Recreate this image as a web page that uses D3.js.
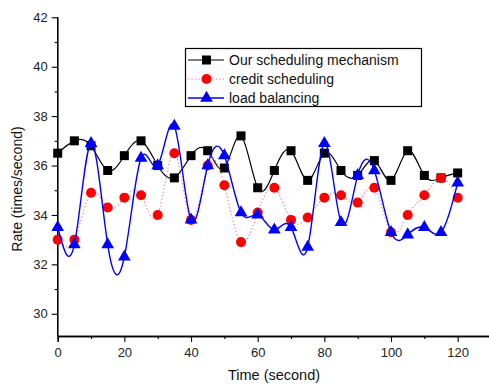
<!DOCTYPE html>
<html>
<head>
<meta charset="utf-8">
<script src="https://cdn.jsdelivr.net/npm/d3@7/dist/d3.min.js"></script>
<style>
  body { margin: 0; background: #fff; }
  svg { display: block; font-family: "Liberation Sans", Arial, sans-serif; }
</style>
</head>
<body>
<svg id="chart" width="489" height="388"></svg>
<script>
const times = [0,5,10,15,20,25,30,35,40,45,50,55,60,65,70,75,80,85,90,95,100,105,110,115,120];
const ourScheduling = [36.5,37.0,36.8,35.8,36.4,37.0,36.0,35.5,36.4,36.6,35.9,37.2,35.1,35.8,36.6,35.4,36.5,35.8,35.6,36.2,35.4,36.6,35.6,35.5,35.7];
const creditScheduling = [33.0,33.0,34.9,34.3,34.7,34.8,34.0,36.5,33.8,36.0,35.2,32.9,34.1,35.1,33.8,33.9,34.7,34.8,34.5,35.1,33.3,34.0,34.8,35.5,34.7];
const loadBalancing = [33.5,32.8,36.9,32.8,32.3,36.3,36.0,37.6,33.8,36.0,36.4,34.1,34.0,33.4,33.5,32.7,36.9,33.7,35.6,35.8,33.3,33.2,33.5,33.3,35.3];
const seriesNames = ["Our scheduling mechanism","credit scheduling","load balancing"];
const xMajorTicks = [0,20,40,60,80,100,120];
const xMinorTicks = [10,30,50,70,90,110];
const yMajorTicks = [30,32,34,36,38,40,42];
const yMinorTicks = [31,33,35,37,39,41];

const svg = d3.select("#chart");
const x = d3.scaleLinear().domain([0,130]).range([57.7,491]);
const y = d3.scaleLinear().domain([29.1,42]).range([336,17.3]);
const txt = "#222";

// axes
const gx = svg.append("g").attr("transform","translate(0,336)");
gx.call(d3.axisBottom(x).tickValues(xMajorTicks).tickSize(6).tickPadding(6).tickFormat(d3.format("d")));
gx.append("g").call(d3.axisBottom(x).tickValues(xMinorTicks).tickSize(3).tickFormat(""));
const gy = svg.append("g").attr("transform","translate(57.7,0)");
gy.call(d3.axisLeft(y).tickValues(yMajorTicks).tickSize(6).tickPadding(4).tickFormat(d3.format("d")));
gy.append("g").call(d3.axisLeft(y).tickValues(yMinorTicks).tickSize(3).tickFormat(""));
svg.selectAll(".domain").attr("stroke","#000").attr("stroke-width",1.3);
svg.selectAll(".tick line").attr("stroke","#000").attr("stroke-width",1.1);
svg.selectAll(".tick text").attr("font-size","13px").attr("fill",txt).attr("font-family","Liberation Sans, Arial, sans-serif");
gy.selectAll(".domain").attr("d","M0,336V17.3");

// axis titles
svg.append("text").attr("x",274).attr("y",380).attr("text-anchor","middle")
  .attr("font-size","14.5px").attr("fill","#111").text("Time (second)");
svg.append("text").attr("transform","translate(17,189) rotate(-90)").attr("text-anchor","middle")
  .attr("dominant-baseline","central").attr("font-size","14px").attr("fill","#111").text("Rate (times/second)");

const line = d3.line().x(d=>x(d[0])).y(d=>y(d[1])).curve(d3.curveNatural);
const tri = d3.symbol().type(d3.symbolTriangle).size(70);

function series(vals, color, width, dash, markerFn) {
  const pts = times.map((t,i)=>[t, vals[i]]);
  svg.append("path").datum(pts).attr("d",line).attr("fill","none")
    .attr("stroke",color).attr("stroke-width",width).attr("stroke-dasharray",dash);
  markerFn(svg.append("g"), pts);
}

series(ourScheduling, "#000", 1.2, null, (g,pts)=>{
  g.selectAll("rect").data(pts).join("rect")
    .attr("x",d=>x(d[0])-4.5).attr("y",d=>y(d[1])-4.5).attr("width",9).attr("height",9).attr("fill","#000");
});
series(creditScheduling, "#ff7070", 1.1, "1.2,2.3", (g,pts)=>{
  g.selectAll("circle").data(pts).join("circle")
    .attr("cx",d=>x(d[0])).attr("cy",d=>y(d[1])).attr("r",5).attr("fill","#ff0000");
});
series(loadBalancing, "#0000ff", 1.4, null, (g,pts)=>{
  g.selectAll("path").data(pts).join("path")
    .attr("d",tri).attr("transform",d=>`translate(${x(d[0])},${y(d[1])})`).attr("fill","#0000ff");
});

// legend
const lg = svg.append("g");
lg.append("rect").attr("x",185.5).attr("y",48.5).attr("width",236).attr("height",58)
  .attr("fill","#fff").attr("stroke","#000").attr("stroke-width",1.2);
const rowsY = [60,79,98];
const styles = [
  {c:"#000", w:1.2, dash:null, m:"sq"},
  {c:"#ff7070", w:1.1, dash:"1.2,2.3", m:"ci"},
  {c:"#0000ff", w:1.4, dash:null, m:"tr"}
];
seriesNames.forEach((name,i)=>{
  const s = styles[i], yy = rowsY[i];
  lg.append("line").attr("x1",188).attr("x2",224).attr("y1",yy).attr("y2",yy)
    .attr("stroke",s.c).attr("stroke-width",s.w).attr("stroke-dasharray",s.dash);
  if (s.m==="sq") lg.append("rect").attr("x",202).attr("y",yy-4.5).attr("width",9).attr("height",9).attr("fill","#000");
  if (s.m==="ci") lg.append("circle").attr("cx",206.5).attr("cy",yy).attr("r",5).attr("fill","#ff0000");
  if (s.m==="tr") lg.append("path").attr("d",tri).attr("transform",`translate(206.5,${yy})`).attr("fill","#0000ff");
  lg.append("text").attr("x",229).attr("y",yy).attr("dominant-baseline","central")
    .attr("font-size","14px").attr("fill","#111").text(name);
});
</script>
</body>
</html>
